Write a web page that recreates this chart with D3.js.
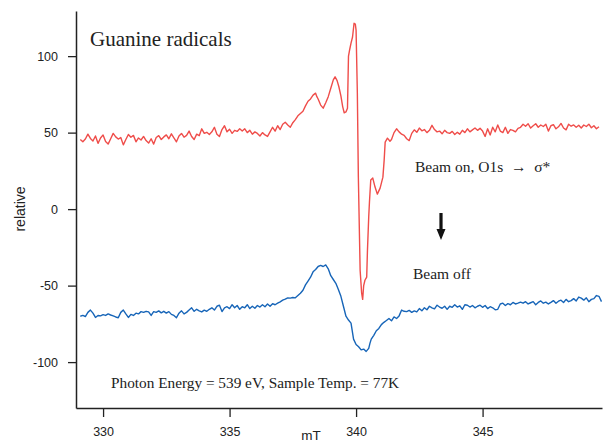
<!DOCTYPE html>
<html>
<head>
<meta charset="utf-8">
<script src="https://cdn.jsdelivr.net/npm/d3@7"></script>
<style>
  html, body { margin: 0; padding: 0; background: #fff; }
  svg { display: block; }
</style>
</head>
<body>
<svg id="chart" width="607" height="444"></svg>
<script>
// 数据: [磁场 mT, 信号强度]
const beamOn = [
  [329.1, 45.5], [329.2, 44.0], [329.3, 45.8], [329.4, 49.0], [329.5, 46.2], [329.6, 44.5],
  [329.7, 47.8], [329.8, 43.0], [329.9, 46.5], [330.0, 48.5], [330.1, 44.2], [330.2, 42.5],
  [330.3, 46.0], [330.4, 49.5], [330.5, 47.2], [330.6, 45.8], [330.7, 46.8], [330.8, 42.0],
  [330.9, 45.5], [331.0, 48.8], [331.1, 47.0], [331.2, 48.2], [331.3, 44.0], [331.4, 46.5],
  [331.5, 45.2], [331.6, 47.5], [331.7, 44.8], [331.8, 43.2], [331.9, 46.0], [332.0, 42.5],
  [332.1, 46.8], [332.2, 48.0], [332.3, 45.5], [332.4, 47.2], [332.5, 48.5], [332.6, 46.0],
  [332.7, 49.2], [332.8, 46.5], [332.9, 44.0], [333.0, 47.8], [333.1, 49.5], [333.2, 47.0],
  [333.3, 48.2], [333.4, 51.0], [333.5, 47.5], [333.6, 45.5], [333.7, 49.0], [333.8, 48.0],
  [333.9, 52.5], [334.0, 49.5], [334.1, 50.2], [334.2, 48.8], [334.3, 50.5], [334.4, 53.5],
  [334.5, 49.0], [334.6, 47.5], [334.7, 52.0], [334.8, 54.5], [334.9, 50.5], [335.0, 52.2],
  [335.1, 49.5], [335.2, 51.5], [335.3, 50.8], [335.4, 52.5], [335.5, 51.0], [335.6, 52.5],
  [335.7, 50.0], [335.8, 51.5], [335.9, 49.0], [336.0, 50.5], [336.1, 49.5], [336.2, 47.8],
  [336.3, 50.0], [336.4, 48.5], [336.5, 47.5], [336.6, 50.5], [336.7, 53.5], [336.8, 51.0],
  [336.9, 54.5], [337.0, 52.0], [337.1, 55.5], [337.2, 56.8], [337.3, 55.0], [337.4, 53.5],
  [337.5, 56.5], [337.6, 58.5], [337.7, 61.0], [337.8, 62.5], [337.9, 64.0], [338.0, 67.5],
  [338.1, 70.5], [338.2, 72.0], [338.3, 74.5], [338.4, 75.8], [338.45, 73.5], [338.5, 72.0],
  [338.6, 68.0], [338.7, 66.0], [338.8, 69.5], [338.9, 73.5], [339.0, 79.0], [339.1, 84.5],
  [339.17, 86.5], [339.25, 84.0], [339.32, 80.0], [339.4, 74.0], [339.47, 67.0], [339.53, 63.0],
  [339.6, 63.5], [339.66, 66.0], [339.7, 100.0], [339.75, 104.5], [339.8, 108.5], [339.86, 112.5],
  [339.92, 121.5], [339.97, 121.0], [340.0, 117.0], [340.05, 76.0], [340.09, 21.0], [340.16, -40.0],
  [340.22, -55.0], [340.26, -59.0], [340.3, -50.0], [340.35, -46.5], [340.42, -44.4], [340.45, -26.8],
  [340.5, -5.0], [340.53, 5.0], [340.58, 19.0], [340.66, 20.3], [340.75, 14.4], [340.84, 9.8],
  [340.95, 13.7], [341.06, 20.9], [341.11, 32.0], [341.15, 43.8], [341.24, 46.4], [341.34, 44.4],
  [341.4, 45.5], [341.5, 50.0], [341.6, 52.5], [341.7, 50.5], [341.8, 49.0], [341.9, 48.2],
  [342.0, 46.0], [342.1, 44.8], [342.2, 49.5], [342.3, 51.8], [342.4, 50.2], [342.5, 53.0],
  [342.6, 51.2], [342.7, 52.0], [342.8, 50.0], [342.9, 51.5], [343.0, 54.8], [343.1, 52.0],
  [343.2, 50.5], [343.3, 51.0], [343.4, 49.2], [343.5, 51.5], [343.6, 50.0], [343.7, 49.5],
  [343.8, 50.8], [343.9, 48.8], [344.0, 50.2], [344.1, 49.0], [344.2, 51.5], [344.3, 50.0],
  [344.4, 52.5], [344.5, 50.5], [344.6, 51.8], [344.7, 53.0], [344.8, 51.5], [344.9, 52.8],
  [345.0, 51.0], [345.1, 47.5], [345.2, 52.5], [345.3, 48.5], [345.4, 53.5], [345.5, 50.5],
  [345.6, 55.0], [345.7, 51.0], [345.8, 50.0], [345.9, 53.5], [346.0, 49.5], [346.1, 52.0],
  [346.2, 51.5], [346.3, 50.5], [346.4, 52.8], [346.5, 53.5], [346.6, 55.5], [346.7, 54.2],
  [346.8, 55.8], [346.9, 53.0], [347.0, 54.5], [347.1, 55.8], [347.2, 53.5], [347.3, 55.0],
  [347.4, 54.0], [347.5, 55.5], [347.6, 51.0], [347.7, 54.5], [347.8, 55.2], [347.9, 52.5],
  [348.0, 53.8], [348.1, 56.0], [348.2, 53.0], [348.3, 51.8], [348.4, 55.5], [348.5, 54.2],
  [348.6, 55.0], [348.7, 53.5], [348.8, 54.8], [348.9, 53.0], [349.0, 55.0], [349.1, 54.0],
  [349.2, 55.5], [349.3, 53.2], [349.4, 54.5], [349.5, 52.5], [349.6, 53.8]
];

const beamOff = [
  [329.1, -70.0], [329.2, -69.5], [329.3, -70.2], [329.4, -67.5], [329.5, -66.0], [329.6, -68.0],
  [329.7, -70.8], [329.8, -69.5], [329.9, -69.8], [330.0, -69.0], [330.1, -69.5], [330.2, -68.5],
  [330.3, -69.2], [330.4, -69.8], [330.5, -70.5], [330.6, -71.0], [330.7, -67.5], [330.8, -66.0],
  [330.9, -68.5], [331.0, -70.8], [331.1, -68.8], [331.2, -69.5], [331.3, -68.0], [331.4, -68.5],
  [331.5, -67.0], [331.6, -67.5], [331.7, -66.8], [331.8, -67.2], [331.9, -69.5], [332.0, -67.0],
  [332.1, -67.5], [332.2, -66.5], [332.3, -67.8], [332.4, -66.8], [332.5, -68.0], [332.6, -67.0],
  [332.7, -68.8], [332.8, -69.5], [332.9, -71.0], [333.0, -68.0], [333.1, -66.5], [333.2, -68.5],
  [333.3, -67.5], [333.4, -66.0], [333.5, -64.5], [333.6, -66.8], [333.7, -65.5], [333.8, -66.5],
  [333.9, -67.2], [334.0, -66.0], [334.1, -66.8], [334.2, -65.5], [334.3, -64.5], [334.4, -66.0],
  [334.5, -63.5], [334.6, -62.8], [334.7, -67.0], [334.8, -64.5], [334.9, -63.8], [335.0, -65.0],
  [335.1, -62.5], [335.2, -64.5], [335.3, -63.0], [335.4, -65.5], [335.5, -63.8], [335.6, -64.5],
  [335.7, -62.5], [335.8, -65.0], [335.9, -63.5], [336.0, -64.8], [336.1, -63.0], [336.2, -64.0],
  [336.3, -62.5], [336.4, -63.8], [336.5, -62.0], [336.6, -63.5], [336.7, -61.8], [336.8, -62.5],
  [336.9, -61.5], [337.0, -60.6], [337.1, -59.5], [337.2, -58.8], [337.3, -58.0], [337.4, -58.2],
  [337.5, -57.8], [337.6, -58.0], [337.7, -56.5], [337.8, -55.0], [337.9, -53.0], [338.0, -49.5],
  [338.1, -47.0], [338.2, -44.5], [338.3, -41.0], [338.4, -39.5], [338.5, -37.5], [338.6, -36.8],
  [338.7, -37.5], [338.8, -36.5], [338.9, -39.0], [339.0, -43.5], [339.1, -46.0], [339.2, -48.5],
  [339.3, -52.5], [339.4, -57.0], [339.5, -63.5], [339.6, -70.0], [339.7, -72.5], [339.8, -74.5],
  [339.9, -85.0], [340.0, -88.5], [340.1, -90.0], [340.2, -92.0], [340.3, -91.5], [340.4, -93.0],
  [340.5, -91.0], [340.55, -87.6], [340.6, -85.0], [340.7, -82.5], [340.8, -79.5], [340.9, -78.0],
  [341.0, -75.5], [341.1, -74.0], [341.2, -72.8], [341.3, -71.5], [341.4, -73.0], [341.5, -70.5],
  [341.6, -71.5], [341.7, -69.8], [341.8, -66.0], [341.9, -66.8], [342.0, -67.0], [342.1, -66.2],
  [342.2, -67.5], [342.3, -66.5], [342.4, -67.2], [342.5, -65.0], [342.6, -66.5], [342.7, -64.5],
  [342.8, -65.8], [342.9, -63.5], [343.0, -64.5], [343.1, -65.2], [343.2, -62.8], [343.3, -64.0],
  [343.4, -64.8], [343.5, -63.5], [343.6, -65.5], [343.7, -63.5], [343.8, -64.2], [343.9, -62.5],
  [344.0, -64.0], [344.1, -63.2], [344.2, -65.5], [344.3, -62.5], [344.4, -62.8], [344.5, -64.0],
  [344.6, -63.0], [344.7, -64.5], [344.8, -63.5], [344.9, -62.8], [345.0, -64.2], [345.1, -63.0],
  [345.2, -65.0], [345.3, -63.8], [345.4, -64.5], [345.5, -65.8], [345.6, -65.5], [345.7, -62.0],
  [345.8, -61.5], [345.9, -63.0], [346.0, -61.8], [346.1, -62.5], [346.2, -61.0], [346.3, -62.0],
  [346.4, -61.5], [346.5, -60.8], [346.6, -61.5], [346.7, -60.5], [346.8, -62.0], [346.9, -61.2],
  [347.0, -60.5], [347.1, -62.5], [347.2, -61.0], [347.3, -60.0], [347.4, -61.5], [347.5, -60.8],
  [347.6, -62.0], [347.7, -61.0], [347.8, -59.8], [347.9, -61.5], [348.0, -60.2], [348.1, -59.5],
  [348.2, -61.0], [348.3, -59.0], [348.4, -60.5], [348.5, -59.8], [348.6, -58.5], [348.7, -60.0],
  [348.8, -57.5], [348.9, -58.2], [349.0, -59.5], [349.1, -58.0], [349.2, -60.5], [349.3, -59.0],
  [349.4, -58.5], [349.5, -56.5], [349.6, -57.0], [349.7, -60.5]
];

const xTicks = [330, 335, 340, 345];
const yTicks = [-100, -50, 0, 50, 100];

// 画布与比例尺
const svg = d3.select('#chart');
const margin = { left: 76, right: 602, top: 11, bottom: 408 };

const xScale = d3.scaleLinear().domain([328.93, 349.72]).range([margin.left, margin.right]);
const yScale = d3.scaleLinear().domain([-130, 129.5]).range([margin.bottom, margin.top]);

const sansFont = '"Liberation Sans", Arial, Helvetica, sans-serif';
const serifFont = '"Liberation Serif", "Times New Roman", serif';

// 坐标轴 (刻度标签用普通连字符作负号)
const xAxis = svg.append('g')
  .attr('transform', `translate(0,${margin.bottom})`)
  .call(d3.axisBottom(xScale).tickValues(xTicks).tickFormat(d => String(d))
    .tickSize(9).tickPadding(10).tickSizeOuter(0));

const yAxis = svg.append('g')
  .attr('transform', `translate(${margin.left},0)`)
  .call(d3.axisLeft(yScale).tickValues(yTicks).tickFormat(d => String(d))
    .tickSize(8).tickPadding(10).tickSizeOuter(0));

[xAxis, yAxis].forEach(g => {
  g.select('.domain').attr('stroke', '#222').attr('stroke-width', 1.5);
  g.selectAll('.tick line').attr('stroke', '#222').attr('stroke-width', 1.3);
  g.selectAll('.tick text')
    .attr('fill', '#222')
    .style('font-family', sansFont)
    .style('font-size', '12.5px');
});

// 轴标题
svg.append('text')
  .attr('x', 311)
  .attr('y', 440)
  .attr('text-anchor', 'middle')
  .attr('fill', '#222')
  .style('font-family', sansFont)
  .style('font-size', '13.5px')
  .text('mT');

svg.append('text')
  .attr('transform', 'translate(25,209) rotate(-90)')
  .attr('text-anchor', 'middle')
  .attr('fill', '#222')
  .style('font-family', sansFont)
  .style('font-size', '14px')
  .text('relative');

// 曲线
const line = d3.line()
  .x(d => xScale(d[0]))
  .y(d => yScale(d[1]));

svg.append('path')
  .datum(beamOff)
  .attr('fill', 'none')
  .attr('stroke', '#1765b8')
  .attr('stroke-width', 1.4)
  .attr('stroke-linejoin', 'round')
  .attr('d', line);

svg.append('path')
  .datum(beamOn)
  .attr('fill', 'none')
  .attr('stroke', '#ef4d4a')
  .attr('stroke-width', 1.4)
  .attr('stroke-linejoin', 'round')
  .attr('d', line);

// 注释文字
const notes = svg.append('g')
  .attr('fill', '#222')
  .style('font-family', serifFont);

notes.append('text')
  .attr('x', 90).attr('y', 46)
  .style('font-size', '21px')
  .text('Guanine radicals');

notes.append('text')
  .attr('x', 415).attr('y', 172)
  .style('font-size', '15.5px')
  .text('Beam on, O1s \u00a0\u2192 \u00a0\u03c3*');

notes.append('text')
  .attr('x', 413).attr('y', 279)
  .style('font-size', '15.5px')
  .text('Beam off');

notes.append('text')
  .attr('x', 111).attr('y', 388)
  .style('font-size', '15.3px')
  .text('Photon Energy = 539 eV, Sample Temp. = 77K');

// 向下箭头
const ax = 441;
notes.append('path')
  .attr('d', `M${ax - 1.6},213 L${ax + 1.6},213 L${ax + 1.6},229 L${ax + 4.5},229 L${ax},240 L${ax - 4.5},229 L${ax - 1.6},229 Z`)
  .attr('fill', '#111');
</script>
</body>
</html>
